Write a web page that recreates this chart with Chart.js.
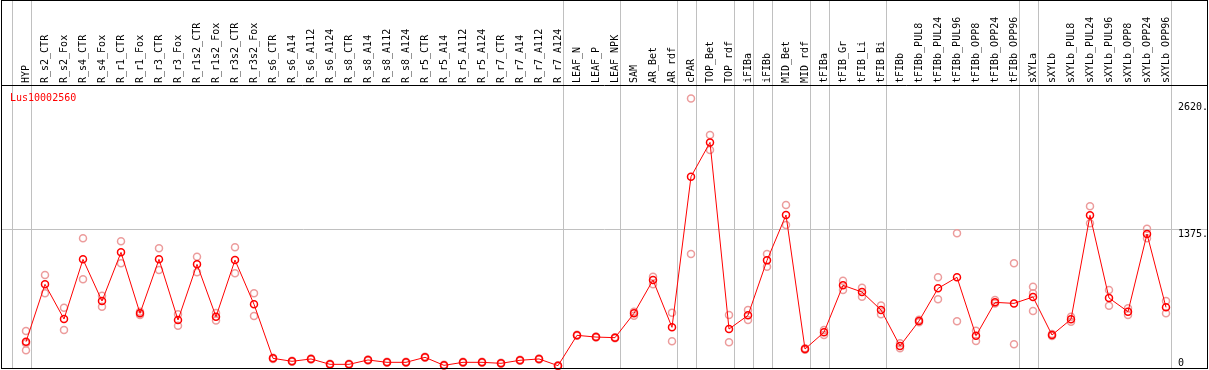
<!DOCTYPE html>
<html>
<head>
<meta charset="utf-8">
<script src="https://cdn.jsdelivr.net/npm/chart.js@4.4.1/dist/chart.umd.min.js"></script>
<style>
    html, body { margin: 0; padding: 0; background: #fff; }
    #chart { display: block; }
</style>
</head>
<body>
<canvas id="chart" width="1209" height="370"></canvas>
<script>
const seriesName = 'Lus10002560';

const categories = [
    'HYP', 'R_s2_CTR', 'R_s2_Fox', 'R_s4_CTR', 'R_s4_Fox', 'R_r1_CTR', 'R_r1_Fox',
    'R_r3_CTR', 'R_r3_Fox', 'R_r1s2_CTR', 'R_r1s2_Fox', 'R_r3s2_CTR', 'R_r3s2_Fox',
    'R_s6_CTR', 'R_s6_A14', 'R_s6_A112', 'R_s6_A124', 'R_s8_CTR', 'R_s8_A14', 'R_s8_A112', 'R_s8_A124',
    'R_r5_CTR', 'R_r5_A14', 'R_r5_A112', 'R_r5_A124', 'R_r7_CTR', 'R_r7_A14', 'R_r7_A112', 'R_r7_A124',
    'LEAF_N', 'LEAF_P', 'LEAF_NPK', 'SAM', 'AR_Bet', 'AR_rdf', 'cPAR', 'TOP_Bet', 'TOP_rdf',
    'iFIBa', 'iFIBb', 'MID_Bet', 'MID_rdf', 'tFIBa', 'tFIB_Gr', 'tFIB_Li', 'tFIB_Bi', 'tFIBb',
    'tFIBb_PUL8', 'tFIBb_PUL24', 'tFIBb_PUL96', 'tFIBb_OPP8', 'tFIBb_OPP24', 'tFIBb_OPP96',
    'sXYLa', 'sXYLb', 'sXYLb_PUL8', 'sXYLb_PUL24', 'sXYLb_PUL96', 'sXYLb_OPP8', 'sXYLb_OPP24', 'sXYLb_OPP96'
];

// mean expression per sample
const means = [
    264, 830, 488, 1076, 665, 1145, 544, 1076, 478, 1027, 511, 1069, 633,
    100, 71, 94, 41, 41, 84, 61, 61, 110, 31, 61, 61, 51, 81, 94, 28,
    327, 310, 304, 544, 872, 406, 1891, 2229, 389, 524, 1066, 1513, 192,
    357, 820, 754, 577, 222, 468, 790, 899, 323, 652, 642,
    705, 330, 485, 1510, 695, 560, 1326, 603
];

// individual replicates per sample
const replicates = [
    [370, 250, 180], [922, 741], [600, 380], [1283, 879], [718, 609], [1254, 1037], [560, 528],
    [1185, 971], [534, 422], [1102, 948], [548, 474], [1195, 938], [741, 517],
    [106, 94], [76, 66], [99, 89], [46, 36], [46, 36], [89, 79], [66, 56], [66, 56],
    [115, 105], [36, 26], [66, 56], [66, 56], [56, 46], [86, 76], [99, 89], [33, 23],
    [332, 322], [315, 305], [309, 299], [560, 520], [905, 830], [550, 268], [2663, 1129],
    [2302, 2154], [527, 258], [577, 478], [1129, 1004], [1612, 1415], [200, 185],
    [380, 330], [865, 775], [797, 708], [620, 534], [248, 199], [480, 455], [899, 682],
    [1333, 465], [373, 271], [675, 642], [1037, 238],
    [806, 741, 567], [340, 320], [511, 461], [1599, 1431], [774, 619], [593, 527], [1378, 1283], [665, 544]
];

// sample index after which a group separator is drawn
const groupEnds = [-1, 0, 28, 31, 34, 35, 37, 38, 39, 41, 42, 45, 52, 53, 60];

const yTicks = [0, 1375, 2620];
const yGridAt = [1375];

const FONT = '10px "DejaVu Sans Mono", "Liberation Mono", monospace';

const meanPoints = means.map((v, i) => ({ x: i, y: v }));
const repPoints = [];
replicates.forEach((reps, i) => {
    reps.forEach(v => repPoints.push({ x: i, y: v }));
});

const framePlugin = {
    id: 'frame',
    beforeDatasetsDraw(chart) {
        const ctx = chart.ctx;
        const xs = chart.scales.x;
        const ys = chart.scales.y;
        const area = chart.chartArea;
        ctx.save();
        ctx.strokeStyle = '#c0c0c0';
        ctx.lineWidth = 1;
        ctx.beginPath();
        groupEnds.forEach(g => {
            const x = Math.round(xs.getPixelForValue(g + 0.25)) + 0.5;
            ctx.moveTo(x, 0);
            ctx.lineTo(x, area.bottom);
        });
        yGridAt.forEach(v => {
            const y = Math.round(ys.getPixelForValue(v)) + 0.5;
            ctx.moveTo(area.left, y);
            ctx.lineTo(area.right, y);
        });
        ctx.stroke();
        ctx.restore();
    },
    afterDraw(chart) {
        const ctx = chart.ctx;
        const ys = chart.scales.y;
        const area = chart.chartArea;
        ctx.save();
        // outer frame + separator under labels
        ctx.strokeStyle = '#000';
        ctx.lineWidth = 1;
        ctx.strokeRect(1.5, 0.5, 1206, 368);
        ctx.beginPath();
        ctx.moveTo(1, 85.5);
        ctx.lineTo(1208, 85.5);
        ctx.stroke();

        // y tick labels inside the plot, right side
        ctx.font = FONT;
        ctx.fillStyle = '#000';
        ctx.textAlign = 'left';
        ctx.textBaseline = 'top';
        yTicks.forEach(t => {
            let y = ys.getPixelForValue(t);
            y = Math.min(y, area.bottom - 10);
            ctx.fillText(t === 0 ? '0' : t + '.', 1178, y);
        });

        // series name
        ctx.fillStyle = '#ff0000';
        ctx.fillText(chart.data.datasets[0].label, 10, 93);
        ctx.restore();
    }
};

new Chart(document.getElementById('chart'), {
    type: 'line',
    data: {
        datasets: [
            {
                label: seriesName,
                data: meanPoints,
                borderColor: '#ff0000',
                borderWidth: 1,
                pointRadius: 3.5,
                pointBorderWidth: 1.5,
                pointBorderColor: '#ff0000',
                pointBackgroundColor: 'rgba(0,0,0,0)',
                tension: 0,
                order: 0,
                clip: false
            },
            {
                label: 'replicates',
                data: repPoints,
                showLine: false,
                pointRadius: 3.5,
                pointBorderWidth: 1.5,
                pointBorderColor: '#ec9c9c',
                pointBackgroundColor: 'rgba(0,0,0,0)',
                order: 1,
                clip: false
            }
        ]
    },
    plugins: [framePlugin],
    options: {
        responsive: false,
        animation: false,
        events: [],
        layout: { autoPadding: false, padding: { left: 2, right: 2, top: 0, bottom: 1.5 } },
        plugins: {
            legend: { display: false },
            tooltip: { enabled: false }
        },
        scales: {
            x: {
                type: 'linear',
                position: 'top',
                min: -24 / 19,
                max: -24 / 19 + 1205 / 19,
                afterBuildTicks: scale => {
                    scale.ticks = categories.map((_, i) => ({ value: i }));
                },
                afterFit: scale => {
                    scale.height = 85;
                    scale.paddingLeft = 0;
                    scale.paddingRight = 0;
                },
                grid: { display: false },
                border: { display: false },
                ticks: {
                    autoSkip: false,
                    minRotation: 90,
                    maxRotation: 90,
                    padding: -6,
                    labelOffset: 12,
                    color: '#000',
                    font: { family: '"DejaVu Sans Mono", "Liberation Mono", monospace', size: 10 },
                    callback: value => categories[value]
                }
            },
            y: {
                display: false,
                min: 0,
                max: 2795
            }
        }
    }
});
</script>
</body>
</html>
